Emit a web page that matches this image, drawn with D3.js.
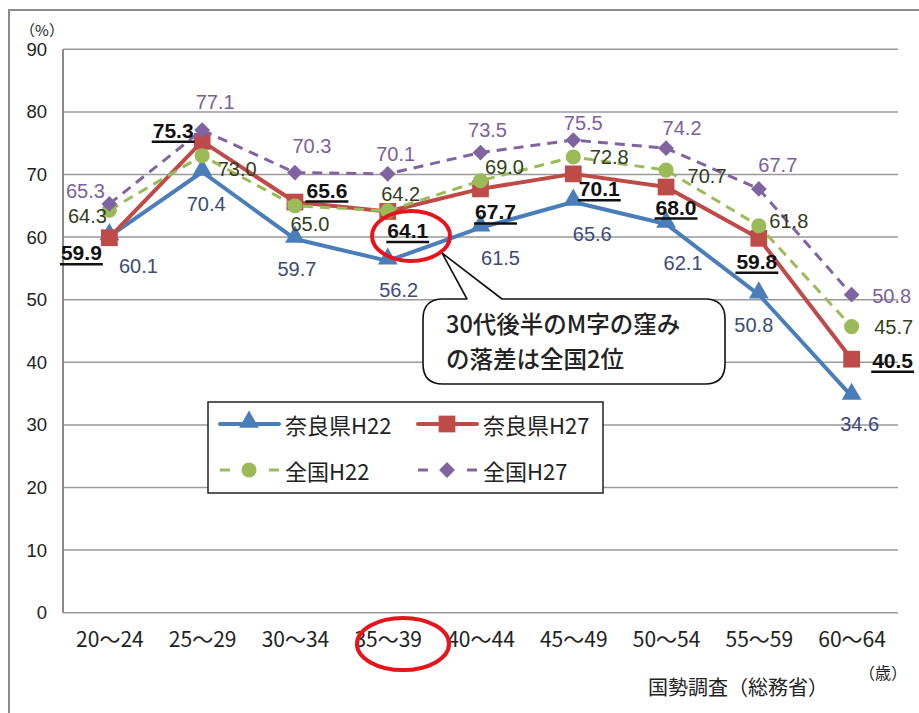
<!DOCTYPE html>
<html>
<head>
<meta charset="utf-8">
<script src="https://cdn.jsdelivr.net/npm/d3@7"></script>
<style>
  body { margin: 0; background: #fff; }
  svg { display: block; }
</style>
</head>
<body>
<div id="chart"></div>
<script>

var categories = ["20〜24", "25〜29", "30〜34", "35〜39", "40〜44", "45〜49", "50〜54", "55〜59", "60〜64"];
var naraH22 = [60.1, 70.4, 59.7, 56.2, 61.5, 65.6, 62.1, 50.8, 34.6];
var naraH27 = [59.9, 75.3, 65.6, 64.1, 67.7, 70.1, 68.0, 59.8, 40.5];
var zenkokuH22 = [64.3, 73.0, 65.0, 64.2, 69.0, 72.8, 70.7, 61.8, 45.7];
var zenkokuH27 = [65.3, 77.1, 70.3, 70.1, 73.5, 75.5, 74.2, 67.7, 50.8];
var yTicks = [0, 10, 20, 30, 40, 50, 60, 70, 80, 90];

var W = 919, H = 713;
var plot = {left: 63, right: 898, top: 49.3, bottom: 612.7};

var jp = "'Noto Sans CJK JP', 'Noto Sans', sans-serif";
var ar = "'Liberation Sans', Arial, sans-serif";

// label offsets from each point (label centre), set by hand like excel does
var labelOffsets = {
    naraH22:    [[29, 30], [4, 32], [2, 30], [11, 29], [20, 30], [19, 32], [17, 39], [-5, 30], [8, 28]],
    naraH27:    [[-28, 15], [-29, -11], [32, -12], [20, 19], [15, 23], [26, 15], [10, 20], [-2, 23], [41, 1]],
    zenkokuH22: [[-22, 6], [35, 13], [15, 18], [13, -17], [24, -14], [36, 0], [41, 6], [30, -5], [42, 0]],
    zenkokuH27: [[-24, -13], [13, -28], [17, -27], [8, -20], [7, -23], [10, -17], [16, -20], [19, -24], [40, 1]]
};

var series = [
    {key: "naraH22", name: "奈良県H22", values: naraH22, color: "#4a7ebb", dash: null, width: 4,
     symbol: d3.symbolTriangle, size: 170, rot: 0, labelColor: "#3c4a7a", bold: false},
    {key: "naraH27", name: "奈良県H27", values: naraH27, color: "#be4b48", dash: null, width: 4,
     symbol: d3.symbolSquare, size: 280, rot: 0, labelColor: "#111", bold: true},
    {key: "zenkokuH22", name: "全国H22", values: zenkokuH22, color: "#9bbb59", dash: "10,7", width: 3,
     symbol: d3.symbolCircle, size: 180, rot: 0, labelColor: "#333d20", bold: false},
    {key: "zenkokuH27", name: "全国H27", values: zenkokuH27, color: "#8064a2", dash: "10,7", width: 3,
     symbol: d3.symbolSquare, size: 125, rot: 45, labelColor: "#7a5f9e", bold: false}
];

var x = d3.scalePoint()
    .domain(categories)
    .range([plot.left, plot.right])
    .padding(0.5);

var y = d3.scaleLinear()
    .domain([0, 90])
    .range([plot.bottom, plot.top]);

var svg = d3.select("#chart")
    .append("svg")
        .attr("width", W)
        .attr("height", H);

// outer frame
svg.append("path")
    .attr("d", "M9," + H + "V10H" + (W + 2))
    .attr("fill", "none")
    .attr("stroke", "#8c8c8c")
    .attr("stroke-width", 2);

// gridlines
svg.append("g")
    .selectAll("line")
    .data(yTicks)
    .enter().append("line")
        .attr("x1", plot.left)
        .attr("x2", plot.right)
        .attr("y1", function(d) { return y(d); })
        .attr("y2", function(d) { return y(d); })
        .attr("stroke", "#9a9a9a")
        .attr("stroke-width", 1.5);

svg.append("line")
    .attr("x1", plot.left).attr("x2", plot.left)
    .attr("y1", plot.top).attr("y2", plot.bottom)
    .attr("stroke", "#8a8a8a")
    .attr("stroke-width", 2);

// y axis
var yAxis = svg.append("g")
    .attr("transform", "translate(" + plot.left + ",0)")
    .call(d3.axisLeft(y).tickValues(yTicks).tickSize(0).tickPadding(16));
yAxis.select(".domain").remove();
yAxis.selectAll("text")
    .style("font-family", ar)
    .style("font-size", "18.5px")
    .attr("fill", "#222");

// x axis
var xAxis = svg.append("g")
    .attr("transform", "translate(0," + plot.bottom + ")")
    .call(d3.axisBottom(x).tickSize(0).tickPadding(19));
xAxis.select(".domain").remove();
xAxis.selectAll("text")
    .style("font-family", jp)
    .style("font-size", "21px")
    .attr("fill", "#222");

svg.append("text")
    .attr("x", 42).attr("y", 36)
    .attr("text-anchor", "middle")
    .style("font-family", jp).style("font-size", "15px")
    .attr("fill", "#222")
    .text("（%）");

svg.append("text")
    .attr("x", 883).attr("y", 679)
    .attr("text-anchor", "middle")
    .style("font-family", jp).style("font-size", "16px")
    .attr("fill", "#222")
    .text("（歳）");

svg.append("text")
    .attr("x", 648).attr("y", 695)
    .style("font-family", jp).style("font-size", "20px")
    .attr("fill", "#222")
    .text("国勢調査（総務省）");

// lines + markers
var line = d3.line()
    .x(function(d, i) { return x(categories[i]); })
    .y(function(d) { return y(d); });

series.forEach(function(s) {
    var g = svg.append("g");
    g.append("path")
        .datum(s.values)
        .attr("d", line)
        .attr("fill", "none")
        .attr("stroke", s.color)
        .attr("stroke-width", s.width)
        .attr("stroke-dasharray", s.dash)
        .attr("stroke-linejoin", "round");
    g.selectAll(".dot")
        .data(s.values)
        .enter().append("path")
            .attr("d", d3.symbol().type(s.symbol).size(s.size))
            .attr("transform", function(d, i) {
                return "translate(" + x(categories[i]) + "," + (y(d) - (s.symbol === d3.symbolTriangle ? 2 : 0)) + ") rotate(" + s.rot + ")";
            })
            .attr("fill", s.color);
});

// data labels
series.forEach(function(s) {
    var offs = labelOffsets[s.key];
    s.values.forEach(function(v, i) {
        var cx = x(categories[i]) + offs[i][0],
            cy = y(v) + offs[i][1];
        var t = svg.append("text")
            .attr("x", cx)
            .attr("y", cy)
            .attr("text-anchor", "middle")
            .attr("dominant-baseline", "central")
            .style("font-family", ar)
            .style("font-size", s.bold ? "21px" : "20px")
            .style("font-weight", s.bold ? "bold" : "normal")
            .attr("fill", s.labelColor)
            .text(v.toFixed(1));
        if (s.bold) {
            var w = t.node().getComputedTextLength();
            svg.append("line")
                .attr("x1", cx - w / 2 - 1).attr("x2", cx + w / 2 + 1)
                .attr("y1", cy + 11.5).attr("y2", cy + 11.5)
                .attr("stroke", "#111")
                .attr("stroke-width", 2.5);
        }
    });
});

// callout
var callout = svg.append("g");
callout.append("path")
    .attr("d", "M443,299 H467 L442,253 L502,299 H705 Q725,299 725,319 V364 Q725,384 705,384 H443 Q423,384 423,364 V319 Q423,299 443,299 Z")
    .attr("fill", "#fff")
    .attr("stroke", "#111")
    .attr("stroke-width", 1.6)
    .attr("stroke-linejoin", "round");
var ct = callout.append("text")
    .style("font-family", jp).style("font-size", "23.5px").style("font-weight", "500")
    .attr("fill", "#222");
ct.append("tspan").attr("x", 446).attr("y", 333).text("30代後半のM字の窪み");
ct.append("tspan").attr("x", 446).attr("y", 368).text("の落差は全国2位");

// red circles
svg.append("ellipse")
    .attr("cx", 411).attr("cy", 236).attr("rx", 39).attr("ry", 25)
    .attr("fill", "none").attr("stroke", "#e8141c").attr("stroke-width", 4);
svg.append("ellipse")
    .attr("cx", 403).attr("cy", 644).attr("rx", 46).attr("ry", 26)
    .attr("fill", "none").attr("stroke", "#e8141c").attr("stroke-width", 4);

// legend
var legend = svg.append("g");
legend.append("rect")
    .attr("x", 208).attr("y", 402).attr("width", 395).attr("height", 91)
    .attr("fill", "#fff")
    .attr("stroke", "#222")
    .attr("stroke-width", 1.5);

var legendPos = [[220, 424], [418, 424], [220, 470], [418, 470]];
series.forEach(function(s, i) {
    var p = legendPos[i];
    var g = legend.append("g").attr("transform", "translate(" + p[0] + "," + p[1] + ")");
    if (s.dash) {
        g.append("line").attr("x1", 0).attr("x2", 10).attr("y1", 0).attr("y2", 0)
            .attr("stroke", s.color).attr("stroke-width", s.width);
        g.append("line").attr("x1", 49).attr("x2", 59).attr("y1", 0).attr("y2", 0)
            .attr("stroke", s.color).attr("stroke-width", s.width);
    } else {
        g.append("line").attr("x1", 0).attr("x2", 59).attr("y1", 0).attr("y2", 0)
            .attr("stroke", s.color).attr("stroke-width", s.width)
            .attr("stroke-linecap", "round");
    }
    g.append("path")
        .attr("d", d3.symbol().type(s.symbol).size(s.size))
        .attr("transform", "translate(29," + (s.symbol === d3.symbolTriangle ? -2 : 0) + ") rotate(" + s.rot + ")")
        .attr("fill", s.color);
    g.append("text")
        .attr("x", 65).attr("y", 0)
        .attr("dominant-baseline", "central")
        .style("font-family", jp).style("font-size", "22px")
        .attr("fill", "#222")
        .text(s.name);
});

</script>
</body>
</html>
